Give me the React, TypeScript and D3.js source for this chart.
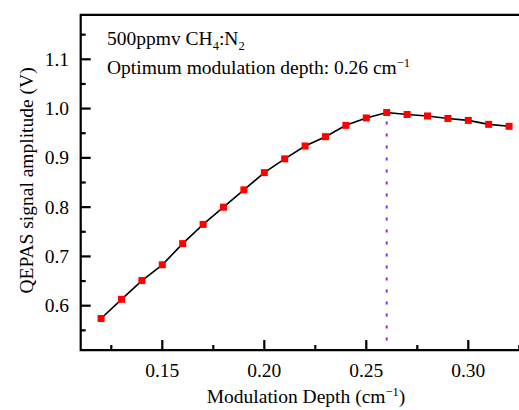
import React from 'react';
import * as d3 from 'd3';

const depths = [0.12, 0.13, 0.14, 0.15, 0.16, 0.17, 0.18, 0.19, 0.20, 0.21, 0.22, 0.23, 0.24, 0.25, 0.26, 0.27, 0.28, 0.29, 0.30, 0.31, 0.32];
const amplitudes = [0.574, 0.613, 0.651, 0.683, 0.726, 0.765, 0.800, 0.835, 0.870, 0.898, 0.924, 0.943, 0.966, 0.981, 0.992, 0.988, 0.985, 0.980, 0.976, 0.968, 0.964];
const xTicks = [0.15, 0.20, 0.25, 0.30];
const xTickLabels = ['0.15', '0.20', '0.25', '0.30'];
const xMinorTicks = [0.125, 0.175, 0.225, 0.275, 0.325];
const yTicks = [0.6, 0.7, 0.8, 0.9, 1.0, 1.1];
const yTickLabels = ['0.6', '0.7', '0.8', '0.9', '1.0', '1.1'];
const yMinorTicks = [0.55, 0.65, 0.75, 0.85, 0.95, 1.05, 1.15];
const optimum = 0.26;

const FONT = '"Liberation Serif", "Times New Roman", serif';

export default function App() {
  const W = 519, H = 410;
  const x = d3.scaleLinear().domain([0.15, 0.20]).range([162.3, 264.3]);
  const y = d3.scaleLinear().domain([0.6, 1.1]).range([305.7, 59.3]);
  const left = x(0.11), right = x(0.335), top = y(1.19), bottom = y(0.51);
  const line = d3.line<number>().x((_, i) => x(depths[i])).y(d => y(d));
  const optIdx = depths.indexOf(optimum);
  const ms = 7;
  const fs = 19.5;
  return (
    <svg width={W} height={H} style={{ position: 'absolute', left: 0, top: 0, background: '#fff' }}
      fontFamily={FONT}>
      <rect x={0} y={0} width={W} height={H} fill="#fff" />
      {/* dotted optimum line */}
      <line x1={x(optimum)} x2={x(optimum)} y1={y(amplitudes[optIdx]) + 9} y2={bottom}
        stroke="#8a2be2" strokeWidth={2} strokeDasharray="3 9" />
      <path d={line(amplitudes) || ''} fill="none" stroke="#000" strokeWidth={1.6} />
      {amplitudes.map((v, i) => (
        <rect key={i} x={x(depths[i]) - ms / 2} y={y(v) - ms / 2} width={ms} height={ms} fill="#ff0000" />
      ))}
      {/* frame */}
      <path d={`M${right},${top}H${left}V${bottom}H${right}`} fill="none" stroke="#000" strokeWidth={2.2} />
      {xTicks.map((t, i) => (
        <g key={'xt' + i}>
          <line x1={x(t)} x2={x(t)} y1={bottom} y2={bottom - 10} stroke="#000" strokeWidth={2.2} />
          <text x={x(t)} y={377} textAnchor="middle" fontSize={fs}>{xTickLabels[i]}</text>
        </g>
      ))}
      {xMinorTicks.map((t, i) => (
        <line key={'xm' + i} x1={x(t)} x2={x(t)} y1={bottom} y2={bottom - 5} stroke="#000" strokeWidth={2.2} />
      ))}
      {yTicks.map((t, i) => (
        <g key={'yt' + i}>
          <line x1={left} x2={left + 10} y1={y(t)} y2={y(t)} stroke="#000" strokeWidth={2.2} />
          <text x={69} y={y(t) + 6.5} textAnchor="end" fontSize={fs}>{yTickLabels[i]}</text>
        </g>
      ))}
      {yMinorTicks.map((t, i) => (
        <line key={'ym' + i} x1={left} x2={left + 5} y1={y(t)} y2={y(t)} stroke="#000" strokeWidth={2.2} />
      ))}
      <text transform={`translate(33,${(top + bottom) / 2 - 2}) rotate(-90)`} textAnchor="middle" fontSize={fs}>
        QEPAS signal amplitude (V)
      </text>
      <text x={306} y={403} textAnchor="middle" fontSize={fs}>
        Modulation Depth (cm<tspan dy={-7} fontSize={12.5}>−1</tspan><tspan dy={7}>)</tspan>
      </text>
      <text x={107} y={45} fontSize={fs}>
        500ppmv CH<tspan dy={5} fontSize={12.5}>4</tspan><tspan dy={-5}>:N</tspan><tspan dy={5} fontSize={12.5}>2</tspan>
      </text>
      <text x={107} y={74} fontSize={fs}>
        Optimum modulation depth: 0.26 cm<tspan dy={-7} fontSize={12.5}>−1</tspan>
      </text>
    </svg>
  );
}
